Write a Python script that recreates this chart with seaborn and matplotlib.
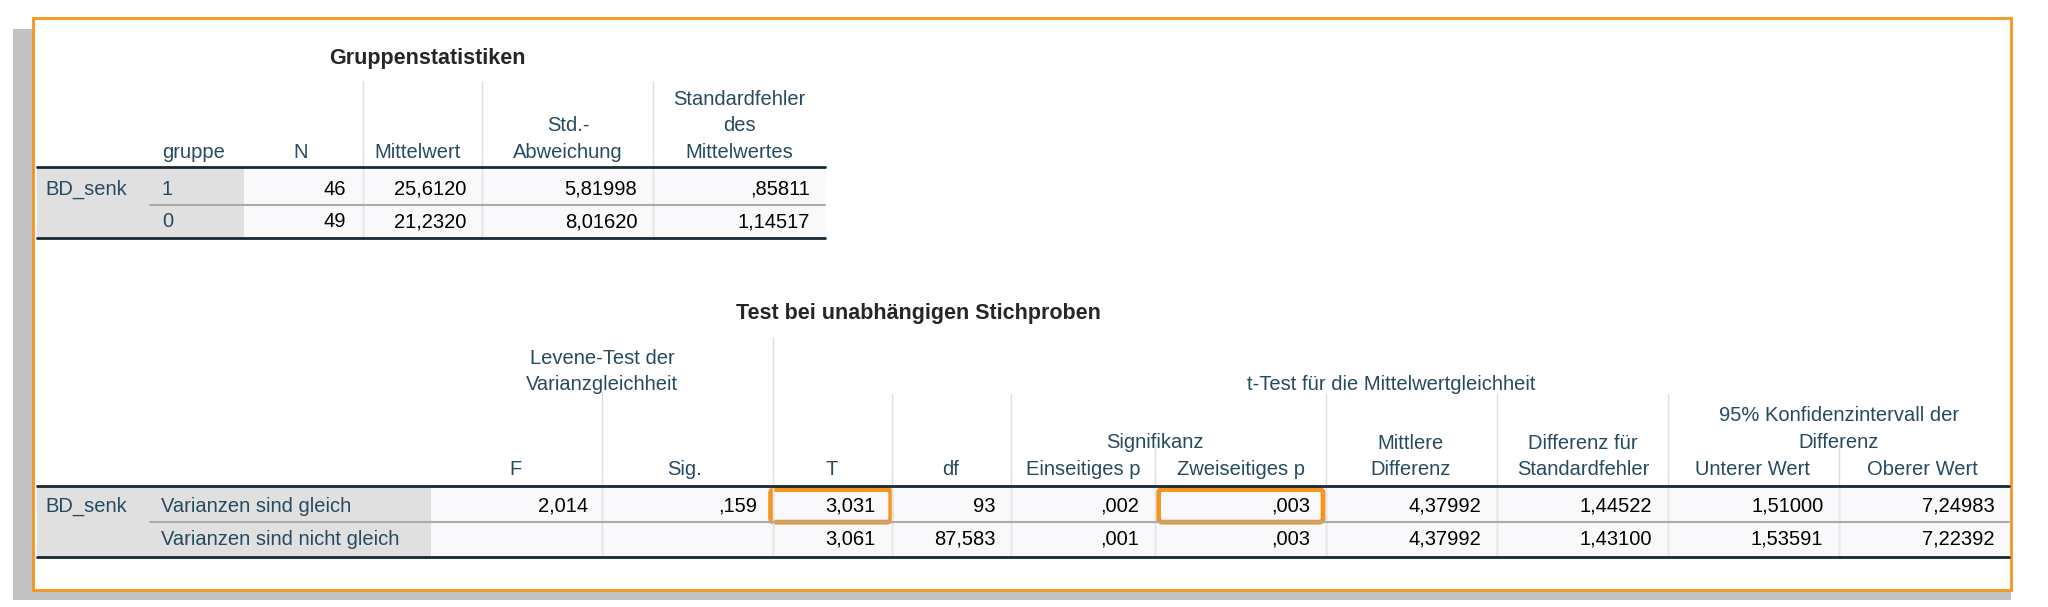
import matplotlib.pyplot as plt
import matplotlib.patches as mpatches
import seaborn as sns

sns.set_style('white')
plt.rcParams['font.family'] = ['Liberation Sans', 'DejaVu Sans']

# --- data: Gruppenstatistiken
grp_var = 'BD_senk'
grp_labels = ['1', '0']
grp_n = ['46', '49']
grp_mean = ['25,6120', '21,2320']
grp_sd = ['5,81998', '8,01620']
grp_se = [',85811', '1,14517']

# --- data: Test bei unabhängigen Stichproben
t_rows = ['Varianzen sind gleich', 'Varianzen sind nicht gleich']
lev_f = ['2,014', '']
lev_sig = [',159', '']
t_val = ['3,031', '3,061']
t_df = ['93', '87,583']
p_one = [',002', ',001']
p_two = [',003', ',003']
mean_diff = ['4,37992', '4,37992']
se_diff = ['1,44522', '1,43100']
ci_low = ['1,51000', '1,53591']
ci_high = ['7,24983', '7,22392']

HEAD = '#264a60'
LINE = '#152935'
SHADE = '#e0e0e0'
CELL = '#f9f9fb'
ORANGE = '#f7941d'
FS = 14.5

fig = plt.figure(figsize=(20.48, 6.07), dpi=100)
ax = fig.add_axes([0, 0, 1, 1])
ax.set_xlim(0, 1568)
ax.set_ylim(465, 0)
ax.axis('off')

# frame with shadow
ax.add_patch(mpatches.Rectangle((10, 22), 1530, 438, color='#9a9a9a', alpha=0.6, lw=0))
ax.add_patch(mpatches.Rectangle((25, 14), 1515, 438, facecolor='white', edgecolor=ORANGE, lw=2))


def hdr(x, y, s, **kw):
    ax.text(x, y, s, color=HEAD, fontsize=FS, ha='center', va='bottom', **kw)


def val(x, y, s, ha='right', color='black'):
    ax.text(x, y, s, color=color, fontsize=FS, ha=ha, va='center')


# ---------- table 1
ax.text(327, 45, 'Gruppenstatistiken', fontsize=15.5, fontweight='bold', ha='center', va='center')
for x in [278, 369, 500]:
    ax.plot([x, x], [62, 182], color='#dddddd', lw=1)
hdr(148, 124, 'gruppe')
hdr(230, 124, 'N')
hdr(320, 124, 'Mittelwert')
hdr(435, 124, 'Std.-\nAbweichung', linespacing=1.5)
hdr(566, 124, 'Standardfehler\ndes\nMittelwertes', linespacing=1.5)
ax.add_patch(mpatches.Rectangle((187, 128), 445, 54, color=CELL, lw=0))
ax.add_patch(mpatches.Rectangle((28, 128), 159, 54, color=SHADE, lw=0))
for x in [278, 369, 500]:
    ax.plot([x, x], [128, 182], color='#e6e6e6', lw=1)
ax.plot([28, 632], [128, 128], color=LINE, lw=2)
ax.plot([115, 632], [157, 157], color='#aaaaaa', lw=1.5)
ax.plot([28, 632], [182, 182], color=LINE, lw=2)
val(35, 145, grp_var, ha='left', color=HEAD)
for i, y in enumerate([145, 170]):
    val(124, y, grp_labels[i], ha='left', color=HEAD)
    val(265, y, grp_n[i])
    val(357, y, grp_mean[i])
    val(488, y, grp_sd[i])
    val(620, y, grp_se[i])

# ---------- table 2
ax.text(703, 240, 'Test bei unabhängigen Stichproben', fontsize=15.5, fontweight='bold', ha='center', va='center')
ax.plot([592, 592], [258, 427], color='#dddddd', lw=1)
ax.plot([461, 461], [300, 427], color='#dddddd', lw=1)
for x in [683, 774, 1015, 1146, 1277]:
    ax.plot([x, x], [302, 427], color='#dddddd', lw=1)
for x in [884, 1408]:
    ax.plot([x, x], [340, 427], color='#dddddd', lw=1)
hdr(461, 302, 'Levene-Test der\nVarianzgleichheit', linespacing=1.5)
hdr(1065, 302, 't-Test für die Mittelwertgleichheit')
for x, s in [(395, 'F'), (524, 'Sig.'), (637, 'T'), (728, 'df'), (829, 'Einseitiges p'),
             (950, 'Zweiseitiges p'), (1342, 'Unterer Wert'), (1472, 'Oberer Wert')]:
    hdr(x, 367, s)
hdr(884, 346, 'Signifikanz')
hdr(1080, 367, 'Mittlere\nDifferenz', linespacing=1.5)
hdr(1212, 367, 'Differenz für\nStandardfehler', linespacing=1.5)
hdr(1408, 346, '95% Konfidenzintervall der\nDifferenz', linespacing=1.5)

ax.add_patch(mpatches.Rectangle((330, 372), 1208, 55, color=CELL, lw=0))
ax.add_patch(mpatches.Rectangle((28, 372), 302, 55, color=SHADE, lw=0))
for x in [461, 592, 683, 774, 884, 1015, 1146, 1277, 1408]:
    ax.plot([x, x], [372, 427], color='#e6e6e6', lw=1)
ax.plot([28, 1538], [372, 372], color=LINE, lw=2)
ax.plot([115, 1538], [400, 400], color='#aaaaaa', lw=1.5)
ax.plot([28, 1538], [427, 427], color=LINE, lw=2)

val(35, 388, grp_var, ha='left', color=HEAD)
cols = [(450, lev_f), (580, lev_sig), (670, t_val), (762, t_df), (872, p_one),
        (1003, p_two), (1134, mean_diff), (1265, se_diff), (1396, ci_low), (1527, ci_high)]
for i, y in enumerate([388, 413]):
    val(123, y, t_rows[i], ha='left', color=HEAD)
    for x, arr in cols:
        val(x, y, arr[i])

# orange highlights
for x0, x1 in [(590, 682), (887, 1013)]:
    ax.add_patch(mpatches.FancyBboxPatch((x0, 375), x1 - x0, 25, boxstyle='round,pad=0,rounding_size=3',
                                         fill=False, edgecolor=ORANGE, lw=3.5))

fig.savefig('out.png', dpi=100)
